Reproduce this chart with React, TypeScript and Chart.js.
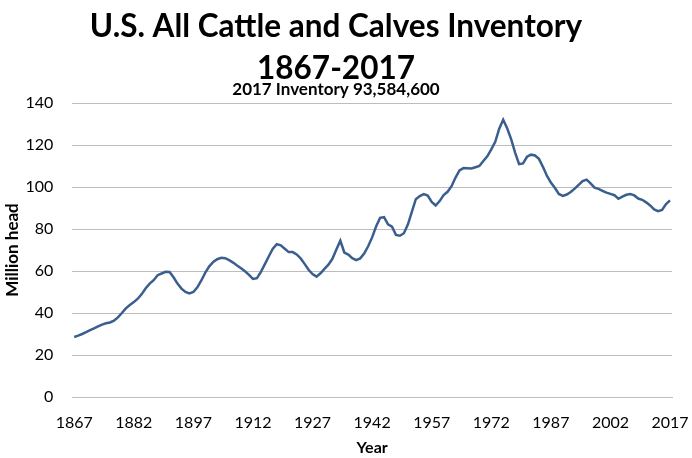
import React, { useEffect, useRef } from "react";
import { Chart, registerables } from "chart.js";

Chart.register(...registerables);

const FIRST_YEAR = 1867;
const LAST_YEAR = 2017;
const years: string[] = Array.from({ length: LAST_YEAR - FIRST_YEAR + 1 }, (_, i) => String(FIRST_YEAR + i));

const tickLabels: string[] = ["1867", "1882", "1897", "1912", "1927", "1942", "1957", "1972", "1987", "2002", "2017"];

// Million head, Jan 1, 1867-2017
const inventory: number[] = [
  28.6, 29.2, 30.0, 30.9, 31.8, 32.7, 33.6, 34.5, 35.1, 35.5,
  36.3, 37.9, 40.0, 42.2, 43.8, 45.2, 46.8, 49.0, 51.8, 54.0,
  55.6, 58.0, 58.8, 59.6, 59.5, 57.0, 54.0, 51.6, 50.0, 49.3,
  50.0, 52.2, 55.5, 59.2, 62.2, 64.3, 65.6, 66.3, 66.1, 65.2,
  64.0, 62.6, 61.3, 59.9, 58.2, 56.2, 56.6, 59.6, 63.3, 67.0,
  70.6, 72.8, 72.2, 70.6, 69.0, 69.0, 67.9, 66.0, 63.4, 60.6,
  58.5, 57.3, 58.9, 61.0, 63.0, 65.8, 70.2, 74.4, 68.8, 67.8,
  66.1, 65.2, 66.0, 68.3, 71.8, 76.0, 81.2, 85.3, 85.6, 82.2,
  81.1, 77.2, 76.8, 78.0, 82.1, 88.1, 94.2, 95.7, 96.6, 95.9,
  92.9, 91.2, 93.3, 96.2, 97.7, 100.4, 104.5, 107.9, 109.0, 108.9,
  108.8, 109.4, 110.0, 112.4, 114.6, 117.9, 121.5, 127.8, 132.0, 128.0,
  122.8, 116.4, 110.9, 111.2, 114.4, 115.4, 115.0, 113.4, 109.6, 105.4,
  102.1, 99.6, 96.7, 95.8, 96.4, 97.6, 99.2, 101.0, 102.8, 103.5,
  101.7, 99.7, 99.1, 98.2, 97.3, 96.7, 96.1, 94.4, 95.4, 96.3,
  96.6, 96.0, 94.5, 93.9, 92.7, 91.2, 89.3, 88.5, 89.1, 91.9,
  93.6,
];

const titleLines = ["U.S. All Cattle and Calves Inventory", "1867-2017"];
const subtitleText = "2017 Inventory 93,584,600";

export default function App() {
  const canvasRef = useRef<HTMLCanvasElement | null>(null);

  useEffect(() => {
    document.body.style.margin = "0";
    const canvas = canvasRef.current;
    if (!canvas) return;
    const FONT = "Lato, 'Open Sans', sans-serif";
    const chart = new Chart(canvas, {
      type: "line",
      data: {
        labels: years,
        datasets: [
          {
            label: "All cattle and calves",
            data: inventory,
            borderColor: "#3A5F8E",
            backgroundColor: "#3A5F8E",
            borderWidth: 2.5,
            pointRadius: 0,
            tension: 0,
            fill: false,
          },
        ],
      },
      options: {
        animation: false,
        responsive: false,
        maintainAspectRatio: false,
        devicePixelRatio: 1,
        layout: { padding: { left: 0, right: 20, top: 0, bottom: 0 } },
        plugins: {
          legend: { display: false },
          tooltip: { enabled: false },
          title: {
            display: true,
            text: titleLines,
            color: "#000",
            font: { family: FONT, size: 31.5, weight: "bold", lineHeight: 42 / 31.5 },
            padding: { top: 5.5, bottom: 0 },
          },
          subtitle: {
            display: true,
            text: subtitleText,
            color: "#000",
            font: { family: FONT, size: 17, weight: "bold", lineHeight: 1.2 },
            padding: { top: -10.5, bottom: 3.6 },
          },
        },
        scales: {
          x: {
            type: "category",
            offset: true,
            grid: {
              display: true,
              color: "rgba(0,0,0,0)",
              drawOnChartArea: false,
              drawTicks: true,
              tickLength: 16,
              tickColor: "rgba(0,0,0,0)",
            },
            border: { display: true, color: "#BDBDBD", width: 1 },
            ticks: {
              autoSkip: false,
              maxRotation: 0,
              minRotation: 0,
              padding: 0,
              color: "#000",
              font: { family: FONT, size: 16 },
              callback: function (_v: any, index: number) {
                const y = years[index];
                return tickLabels.includes(y) ? y : "";
              },
            },
            title: {
              display: true,
              text: "Year",
              color: "#000",
              font: { family: FONT, size: 16, weight: "bold", lineHeight: 1.2 },
              padding: { top: 5.6, bottom: 1 },
            },
          },
          y: {
            min: 0,
            max: 140,
            grid: {
              color: "#BDBDBD",
              lineWidth: 1,
              drawTicks: true,
              tickLength: 19,
              tickColor: "rgba(0,0,0,0)",
            },
            border: { display: false },
            ticks: {
              stepSize: 20,
              padding: 0,
              color: "#000",
              font: { family: FONT, size: 16 },
            },
            title: {
              display: true,
              text: "Million head",
              color: "#000",
              font: { family: FONT, size: 17, weight: "bold", lineHeight: 1.2 },
              padding: { top: 2.5, bottom: 2.5 },
            },
          },
        },
      },
    });
    return () => chart.destroy();
  }, []);

  return (
    <div style={{ position: "absolute", left: 0, top: 0, width: 692, height: 458, background: "#fff" }}>
      <canvas ref={canvasRef} width={692} height={458} style={{ display: "block", width: 692, height: 458 }} />
    </div>
  );
}
